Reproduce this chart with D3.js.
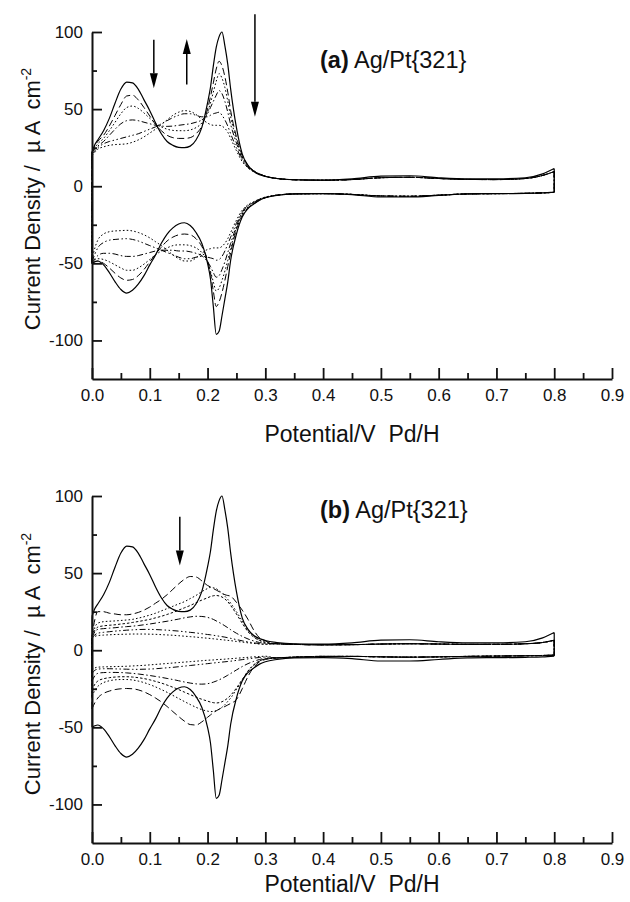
<!DOCTYPE html>
<html><head><meta charset="utf-8">
<script src="https://cdn.jsdelivr.net/npm/d3@7"></script>
<style>
body{margin:0;background:#fff;}
svg{display:block;font-family:"Liberation Sans", Arial, Helvetica, sans-serif;}
</style></head><body>
<svg id="chart" width="630" height="902"></svg>
<script>
// ---------- data ----------
const potentialHead = [0,0.005,0.01,0.02,0.03,0.04,0.05,0.06,0.07,0.08,0.09,0.10,0.11,0.12,0.13,0.14,0.15,0.16,0.17,0.18,0.19,0.20,0.205,0.21,0.215,0.22,0.225,0.23,0.235,0.24,0.25,0.26,0.27,0.28,0.29,0.30];
const potentialTail = [0.32,0.35,0.40,0.45,0.50,0.55,0.60,0.65,0.70,0.75,0.78,0.80];
const xTicksMajor = [0,0.1,0.2,0.3,0.4,0.5,0.6,0.7,0.8,0.9];
const xTicksMinor = [0.05,0.15,0.25,0.35,0.45,0.55,0.65,0.75,0.85];
const yTicksMajor = [-100,-50,0,50,100];
const yTicksMinor = [-75,-25,25,75];

// clean Pt{321} (solid)
const solidPosHead = [22,27,30, 36,44,54,63,67.5,67,63,56,49,41,34,29,26.5,25.2,25,26,30,38,54, 64,78,90,97,100,91,79,63, 38,21,13.5,9.5,7.5,6.3];
const solidNegHead = [-50,-49,-48.5, -51,-56,-62,-67,-69.3,-67.5,-63.5,-58,-51,-44.5,-37,-31,-27,-24.5,-23.7,-25.5,-30,-37,-50, -60,-78,-96,-94,-84,-73,-62,-48, -31,-20,-14.5,-11.5,-9,-7.5];
const solidPosTail = [5,4.2,4,4.8,6.5,6.8,5.5,4.8,4.8,5.5,8,11.5];
const solidNegTail = [-6,-5,-4.8,-5.5,-7,-7,-6,-5,-4.8,-4.6,-4.3,-3.8];

// panel (a)
const a2Pos = [22,26,29, 33,39,46,53,58.5,59,56,51,45.5,40,36,33,31.5,31,31,31.5,34,39,50, 58,67,76,81,78,71,61,49, 32,20,13.5,10,8,6.5];
const a2Neg = [-50,-49,-48.5, -50,-53,-56.5,-59.5,-61,-60.5,-58,-54,-49,-44,-39.5,-35.5,-33,-31.5,-31,-31.5,-34,-39,-48, -56,-68,-78,-75,-69,-61,-52,-43, -28,-19,-14,-11.5,-9,-7.5];
const a3Pos = [22,25,27.5, 31,36,41.5,47,51,52,50.5,47.5,44,41,38.5,37,36.2,36,36,36.5,38,41,48, 54,61,68,73,70,64,55,45, 30,19,13,10,8,6.5];
const a3Neg = [-50,-48,-47, -47.5,-49,-51,-53,-54.5,-54.5,-53,-50.5,-47.5,-44.5,-42,-40,-38.5,-38,-38,-38.5,-40,-43,-49, -55,-62,-68,-66,-61,-55,-48,-40, -27,-18,-13.5,-11,-9,-7.5];
const a4Pos = [22,24,26, 29,33,37,40.5,42.5,43,42.5,41.5,40.5,39.5,39,38.8,39,39.5,40,40.5,41.5,43,47, 51,55,59,62,60,55,48,40, 28,18,12.5,9.5,7.8,6.5];
const a4Neg = [-50,-47,-45, -43.5,-43.5,-44,-45,-45.5,-45.5,-45,-44,-43,-42,-41.5,-41.5,-41.5,-42,-42,-42.5,-43.5,-45,-49, -52,-56,-59,-58,-54,-49,-43,-37, -26,-17,-13,-10.5,-8.5,-7.2];
const a5Pos = [21,23,25, 27.5,29,30,31,32,33,34,35.5,37,38.5,40.5,42.5,44.5,46,47,47,46,45,45, 46,47,47.5,48,46,43,39,34, 25,17,12,9.5,7.8,6.5];
const a5Neg = [-49,-44,-40, -36.5,-35,-34.5,-34.2,-34,-34.5,-35.5,-37,-38.5,-40,-41.5,-43,-44.5,-46,-47,-47,-46,-45.5,-46, -46.5,-47,-48,-47.5,-45.5,-42,-37.5,-33, -24,-16.5,-12.5,-10.3,-8.5,-7.2];
const a6Pos = [20,22,24, 25.5,26.5,27,27.2,27.5,28.5,30,32,34.5,37,40,43,46,48,49,48.5,46.5,43.5,41, 40,39.5,39.5,39.5,39,37.5,35,31, 23,16,12,9.5,7.8,6.5];
const a6Neg = [-48,-40,-35, -31,-29.5,-29,-28.8,-28.6,-29,-30,-31.5,-33.5,-36,-38.5,-41.5,-44.5,-47,-48.5,-48.5,-46.5,-43.5,-41, -40.5,-40,-40,-40,-39,-37,-34,-30, -22,-15.5,-12,-10,-8.3,-7];
const aPosTail = [5,4.2,3.9,4.3,5.5,5.8,5,4.4,4.3,5,7,9.5];
const aNegTail = [-5.8,-5,-4.8,-5.3,-6.3,-6.5,-5.8,-5,-4.8,-4.6,-4.3,-4];

// panel (b)
const b2Pos = [9,20,25, 25,24,23.5,23,23,23.5,24.5,26,28,30.5,33,36,39.5,43,46,47.8,47.5,45,42, 41,40,39,38,37,36,35.5,35, 31,26,20,13,8,6];
const b2Neg = [-38,-34,-31, -28,-26.5,-25.5,-25,-24.8,-25,-25.7,-27,-28.8,-31,-33.5,-36.5,-39.8,-43,-46,-48.2,-48.5,-46.5,-43.5, -42,-40.5,-39.3,-38.2,-37.3,-36.5,-35.5,-34.5, -32,-25,-17,-11,-7.5,-6];
const b3Pos = [9,15,17.5, 18.5,18.8,19,19.3,19.6,20,20.8,21.7,22.8,24,25.5,27,28.5,30,31.5,33.5,35.5,38,40, 40.8,40.5,40,38.5,37,35,33,30.5, 25,19,13,9,6.5,5.2];
const b3Neg = [-30,-26,-23.5, -21,-19.8,-19.2,-19,-19,-19.3,-20,-21,-22.3,-23.8,-25.5,-27.3,-29.3,-31.3,-33.3,-35.2,-37,-38.5,-39.5, -39.8,-39.7,-39.2,-38.3,-37,-35.3,-33.2,-31, -25.5,-19.5,-13.5,-9.5,-7,-5.7];
const b4Pos = [9,13,15, 15.8,16.2,16.5,17,17.4,18,18.6,19.3,20,21,22,23.2,24.5,26,27.5,29,30.8,32.5,34, 34.8,35.3,35.5,35.2,34.5,33.2,31.5,29, 23.5,17.5,12,8.5,6.3,5];
const b4Neg = [-26,-22,-20, -18.5,-17.8,-17.4,-17.2,-17.2,-17.4,-17.8,-18.4,-19.2,-20.2,-21.3,-22.6,-24,-25.5,-27.2,-28.8,-30.4,-31.8,-33, -33.6,-34,-34.2,-34,-33.4,-32.4,-31,-29.2, -24.5,-19,-13.5,-9.5,-7,-5.6];
const b5Pos = [8.5,12,13.5, 14,14.3,14.6,15,15.3,15.6,16,16.5,17,17.6,18.2,18.8,19.5,20.2,21,21.6,22,21.9,21.3, 20.7,20,19,18,17,15.8,14.6,13.3, 11,9,7.3,6,5,4.4];
const b5Neg = [-20,-16.5,-15, -14.5,-14.4,-14.4,-14.5,-14.7,-15,-15.4,-15.9,-16.4,-17,-17.6,-18.3,-19,-19.8,-20.6,-21.3,-21.8,-22,-21.7, -21.3,-20.7,-20,-19.2,-18.3,-17.3,-16.2,-15.1, -12.8,-10.6,-8.7,-7.2,-6,-5.2];
const b6Pos = [8,10,11, 11.6,12,12.4,12.7,13,13.2,13.4,13.5,13.5,13.4,13.2,13,12.7,12.4,12,11.6,11.2,10.7,10.2, 10,9.7,9.4,9.1,8.8,8.5,8.1,7.7, 6.9,6.1,5.4,4.8,4.3,4];
const b6Neg = [-15,-13,-12.3, -12,-12,-12.1,-12.2,-12.3,-12.4,-12.4,-12.3,-12.2,-12,-11.7,-11.4,-11.1,-10.7,-10.3,-9.9,-9.5,-9.1,-8.7, -8.5,-8.3,-8.1,-7.9,-7.7,-7.5,-7.3,-7.1, -6.6,-6.1,-5.6,-5.1,-4.7,-4.4];
const b7Pos = [7.5,9,9.5, 9.8,10,10.2,10.3,10.4,10.5,10.5,10.5,10.4,10.3,10.1,9.9,9.7,9.4,9.1,8.8,8.5,8.1,7.8, 7.6,7.4,7.2,7,6.8,6.6,6.4,6.2, 5.7,5.3,4.8,4.4,4,3.8];
const b7Neg = [-13,-11.5,-11, -10.8,-10.7,-10.6,-10.5,-10.4,-10.2,-10,-9.8,-9.5,-9.2,-8.9,-8.6,-8.3,-8,-7.7,-7.4,-7.1,-6.8,-6.5, -6.4,-6.3,-6.1,-6,-5.9,-5.8,-5.6,-5.5, -5.2,-4.9,-4.6,-4.3,-4.1,-3.9];
const bPosTail = [4.2,3.8,3.5,3.6,4,4.2,4,3.8,3.8,4.2,5,6.5];
const bNegTail = [-5,-4.5,-4,-4,-4.3,-4.5,-4.3,-4,-3.8,-3.6,-3.4,-3.2];

// arrows (data units): potential, start current, tip current
const arrowsA = [{x:0.107, from:95, to:63.5},{x:0.164, from:66, to:95.5},{x:0.282, from:111.5, to:45}];
const arrowsB = [{x:0.152, from:86.5, to:55}];

// ---------- build ----------
const potential = potentialHead.concat(potentialTail);
const curvesA = [
  {style:"solid", pos:solidPosHead.concat(solidPosTail), neg:solidNegHead.concat(solidNegTail)},
  {style:"dash", pos:a2Pos.concat(aPosTail), neg:a2Neg.concat(aNegTail)},
  {style:"dot", pos:a3Pos.concat(aPosTail), neg:a3Neg.concat(aNegTail)},
  {style:"dashdot", pos:a4Pos.concat(aPosTail), neg:a4Neg.concat(aNegTail)},
  {style:"dashdotdot", pos:a5Pos.concat(aPosTail), neg:a5Neg.concat(aNegTail)},
  {style:"dot", pos:a6Pos.concat(aPosTail), neg:a6Neg.concat(aNegTail)}
];
const curvesB = [
  {style:"solid", pos:solidPosHead.concat(solidPosTail), neg:solidNegHead.concat(solidNegTail)},
  {style:"dash", pos:b2Pos.concat(bPosTail), neg:b2Neg.concat(bNegTail)},
  {style:"dot", pos:b3Pos.concat(bPosTail), neg:b3Neg.concat(bNegTail)},
  {style:"dot2", pos:b4Pos.concat(bPosTail), neg:b4Neg.concat(bNegTail)},
  {style:"dashdot", pos:b5Pos.concat(bPosTail), neg:b5Neg.concat(bNegTail)},
  {style:"dashdotdot", pos:b6Pos.concat(bPosTail), neg:b6Neg.concat(bNegTail)},
  {style:"dot", pos:b7Pos.concat(bPosTail), neg:b7Neg.concat(bNegTail)}
];
const dashes = {solid:null, dash:"7,3.5", dot:"1.6,2.2", dot2:"2.5,2", dashdot:"6,2.5,1.5,2.5", dashdotdot:"6,2.5,1.5,2.5,1.5,2.5"};

const svg = d3.select("#chart");
const ink = "#111";

const panels = [
  {top:32, bottom:379, label:"(a)", curves:curvesA, arrows:arrowsA, titleY:68, yTitleC:199, xTitleY:442},
  {top:496, bottom:843, label:"(b)", curves:curvesB, arrows:arrowsB, titleY:518, yTitleC:664, xTitleY:892}
];

panels.forEach(p => {
  const x = d3.scaleLinear().domain([0,0.9]).range([92,612]);
  const y = d3.scaleLinear().domain([-125,100]).range([p.bottom,p.top]);
  const g = svg.append("g");
  const line = d3.line().x(d=>x(d[0])).y(d=>y(d[1])).curve(d3.curveMonotoneX);
  const n = potential.length - 1;

  p.curves.forEach(c => {
    const an = potential.map((v,i)=>[v,c.pos[i]]);
    const ca = potential.map((v,i)=>[v,c.neg[i]]);
    const d = line(an) + line(ca)
      + `M${x(potential[n])},${y(c.pos[n])}L${x(potential[n])},${y(c.neg[n])}`
      + `M${x(potential[0])},${y(c.neg[0])}L${x(potential[0])},${y(c.pos[0])}`;
    g.append("path").attr("d",d).attr("fill","none").attr("stroke","#000")
      .attr("stroke-width", c.style==="solid"?1.2:1)
      .attr("stroke-dasharray", dashes[c.style]);
  });

  // axes
  g.append("g").attr("transform",`translate(0,${p.bottom})`)
    .call(d3.axisBottom(x).tickValues(xTicksMajor).tickFormat(d3.format(".1f")).tickSize(-11).tickSizeOuter(0).tickPadding(10));
  g.append("g").attr("transform",`translate(0,${p.bottom})`)
    .call(d3.axisBottom(x).tickValues(xTicksMinor).tickFormat("").tickSize(-6).tickSizeOuter(0))
    .select(".domain").remove();
  g.append("g").attr("transform",`translate(92,0)`)
    .call(d3.axisLeft(y).tickValues(yTicksMajor).tickFormat(d=>String(d)).tickSize(-10).tickSizeOuter(0).tickPadding(9));
  g.append("g").attr("transform",`translate(92,0)`)
    .call(d3.axisLeft(y).tickValues(yTicksMinor).tickFormat("").tickSize(-5).tickSizeOuter(0))
    .select(".domain").remove();
  g.selectAll(".domain").attr("stroke",ink).attr("stroke-width",2);
  g.selectAll(".tick line").attr("stroke",ink).attr("stroke-width",1.8);
  g.selectAll(".tick text").attr("font-size",17).attr("fill",ink)
    .attr("font-family",'"Liberation Sans", Arial, sans-serif');

  // x title
  g.append("text").attr("x",352).attr("y",p.xTitleY).attr("text-anchor","middle")
    .attr("font-size",23).attr("fill",ink).style("white-space","pre")
    .text("Potential/V  Pd/H");

  // y title
  const yt = g.append("text").attr("transform",`translate(40,${p.yTitleC}) rotate(-90)`)
    .attr("text-anchor","middle").attr("font-size",22).attr("fill",ink).style("white-space","pre");
  yt.append("tspan").text("Current Density /  \u00b5 A  cm");
  yt.append("tspan").attr("font-size",14).attr("dy",-9).text("-2");

  // panel label
  const lt = g.append("text").attr("x",320).attr("y",p.titleY).attr("font-size",23.5).attr("fill",ink);
  lt.append("tspan").attr("font-weight","bold").text(p.label);
  lt.append("tspan").text(" Ag/Pt{321}");

  // arrows
  p.arrows.forEach(a => {
    const xp = x(a.x), y0 = y(a.from), y1 = y(a.to);
    const dir = y1 > y0 ? 1 : -1;
    const head = 15, hw = 4;
    g.append("line").attr("x1",xp).attr("x2",xp).attr("y1",y0).attr("y2",y1 - dir*head)
      .attr("stroke","#000").attr("stroke-width",1.5);
    g.append("path").attr("d",`M${xp},${y1}L${xp-hw},${y1-dir*head}L${xp+hw},${y1-dir*head}Z`).attr("fill","#000");
  });
});
</script>
</body></html>
